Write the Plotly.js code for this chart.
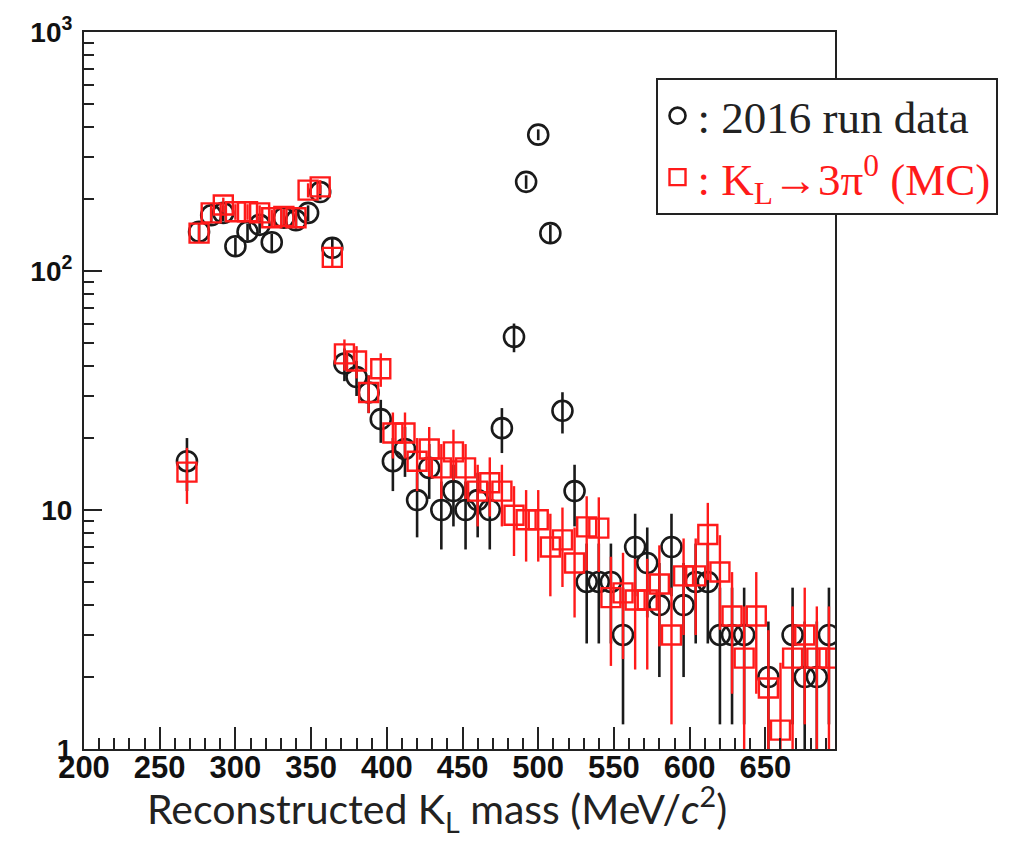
<!DOCTYPE html>
<html>
<head>
<meta charset="utf-8">
<script src="https://cdn.plot.ly/plotly-3.0.1.min.js"></script>
<style>html,body{margin:0;padding:0;background:#fff;}#chart{width:1011px;height:849px;}</style>
</head>
<body>
<div id="chart"></div>
<script>
// Bin centres (MeV/c^2), 8 MeV bins
const massBins = [268,276,284,292,300,308,316,324,332,340,348,356,364,372,380,388,396,404,412,420,428,436,444,452,460,468,476,484,492,500,508,516,524,532,540,548,556,564,572,580,588,596,604,612,620,628,636,644,652,660,668,676,684,692];
// 2016 run data (events per bin)
const runData = [16,146,171,175,127,146,156,132,167,163,175,214,125,41,36,31,24,16,18,11,15,10,12,10,11,10,22,53,236,372,144,26,12,5,5,5,3,7,6,4,7,4,5,5,3,3,3,null,2,null,3,2,2,3];
// K_L -> 3pi0 MC (normalised)
const mcK3pi0 = [14.4,144,175,189,177,177,175,167,169,167,218,225,114,45,42,31,39,21,21,16,18,15,17.5,15,12,13,12,9.5,9.1,9.1,7,7.5,6,8.5,8.4,4.3,4.5,4.2,4.2,4.9,3,5.3,5.3,7.9,5.5,3.6,2.4,3.6,1.8,1.2,2.4,3,2.4,2.4];

const yTickVals = [1,10,100,1000];
const yTickText = ['1','10','10<sup>2</sup>','10<sup>3</sup>'];
const yMinorVals = [2,3,4,5,6,7,8,9,20,30,40,50,60,70,80,90,200,300,400,500,600,700,800,900];

const traces = [
  {
    x: massBins, y: runData, type: 'scatter', mode: 'markers',
    name: ': 2016 run data',
    marker: {symbol: 'circle-open', size: 20, color: '#1a1a1a', line: {width: 2.6, color: '#1a1a1a'}},
    error_y: {type: 'sqrt', visible: true, color: '#1a1a1a', thickness: 2.6, width: 0},
    cliponaxis: true
  },
  {
    x: massBins, y: mcK3pi0, type: 'scatter', mode: 'markers',
    name: '<span style="color:#ff1a1a">: K<sub>L</sub>→3π<sup>0</sup> (MC)</span>',
    marker: {symbol: 'square-open', size: 19, color: '#ff1a1a', line: {width: 2.4, color: '#ff1a1a'}},
    error_y: {type: 'sqrt', visible: true, color: '#ff1a1a', thickness: 2.4, width: 0},
    cliponaxis: true
  }
];

const layout = {
  width: 1011, height: 849,
  margin: {l: 84, r: 176, t: 32, b: 100, autoexpand: false},
  paper_bgcolor: '#ffffff', plot_bgcolor: '#ffffff',
  showlegend: true,
  legend: {
    x: 0.761, y: 0.936, xanchor: 'left', yanchor: 'top',
    bgcolor: '#ffffff', bordercolor: '#222', borderwidth: 2,
    font: {family: 'Liberation Serif, Times New Roman, serif', size: 45, color: '#222'},
    itemwidth: 30, tracegroupgap: 0
  },
  xaxis: {
    type: 'linear', range: [200, 696],
    tickmode: 'linear', tick0: 200, dtick: 50,
    ticks: 'inside', ticklen: 22, tickwidth: 2, tickcolor: '#222',
    minor: {dtick: 10, tick0: 200, ticks: 'inside', ticklen: 11, tickwidth: 2, tickcolor: '#222', showgrid: false},
    showline: true, linecolor: '#222', linewidth: 2, mirror: true,
    showgrid: false, zeroline: false,
    tickfont: {family: 'Liberation Sans, Arial, sans-serif', size: 31, color: '#111', weight: 'bold'},
    ticklabelstandoff: -10
  },
  yaxis: {
    type: 'log', range: [0, 3],
    tickmode: 'array', tickvals: yTickVals, ticktext: yTickText,
    ticks: 'inside', ticklen: 18, tickwidth: 2, tickcolor: '#222',
    minor: {tickmode: 'array', tickvals: yMinorVals, ticks: 'inside', ticklen: 10, tickwidth: 2, tickcolor: '#222', showgrid: false},
    showline: true, linecolor: '#222', linewidth: 2, mirror: true,
    showgrid: false, zeroline: false,
    tickfont: {family: 'Liberation Sans, Arial, sans-serif', size: 28, color: '#111', weight: 'bold'},
    ticklabelstandoff: 4
  },
  annotations: [
    {
      xref: 'paper', yref: 'paper', x: 0.47, y: -0.084, xanchor: 'center', yanchor: 'middle',
      text: 'Reconstructed K<sub>L</sub> mass (MeV/<i>c</i><sup>2</sup>)',
      showarrow: false,
      font: {family: 'Lato, Open Sans, sans-serif', size: 41, color: '#222'}
    }
  ]
};

Plotly.newPlot('chart', traces, layout, {displayModeBar: false, staticPlot: true});
</script>
</body>
</html>
